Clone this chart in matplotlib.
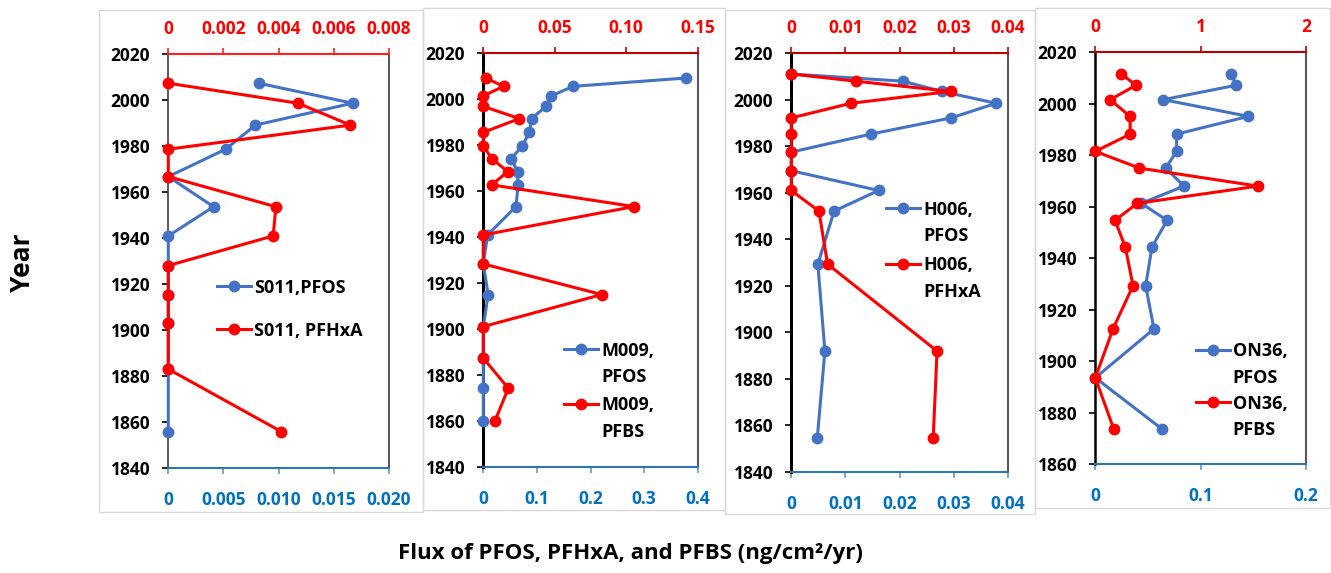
import matplotlib
matplotlib.use("Agg")
import matplotlib.pyplot as plt
from matplotlib.patches import Rectangle

plt.rcParams['font.family'] = ['Open Sans', 'DejaVu Sans']
plt.rcParams['font.weight'] = 'bold'

# ---------------- data ----------------
# Core S011
s011_years = [2007.3, 1998.6, 1989.1, 1978.6, 1966.7, 1953.6, 1940.9, 1928.0,
              1915.4, 1902.9, 1883.0, 1855.8]
s011_pfos = [0.0082, 0.0167, 0.0079, 0.0052, 0.0, 0.0041, 0.0, 0.0,
             0.0, 0.0, 0.0, 0.0]
s011_pfhxa = [0.0, 0.0047, 0.0066, 0.0, 0.0, 0.0039, 0.0038, 0.0,
              0.0, 0.0, 0.0, 0.0041]

# Core M009
m009_years = [2009.0, 2005.4, 2001.3, 1996.7, 1991.4, 1985.4, 1979.6, 1974.0,
              1968.4, 1962.6, 1953.2, 1940.9, 1928.3, 1915.0, 1901.1, 1887.4,
              1874.3, 1860.2]
m009_pfos = [0.378, 0.168, 0.127, 0.117, 0.090, 0.086, 0.073, 0.052,
             0.064, 0.065, 0.061, 0.008, 0.0, 0.009, 0.0, 0.0, 0.0, 0.0]
m009_pfbs = [0.0017, 0.0143, 0.0, 0.0, 0.0252, 0.0, 0.0, 0.0059,
             0.0171, 0.0059, 0.1055, 0.0, 0.0, 0.0829, 0.0, 0.0, 0.0175, 0.0082]

# Core H006
h006_years = [2011.1, 2008.0, 2003.6, 1998.5, 1992.2, 1985.3, 1977.5, 1969.5,
              1961.0, 1952.1, 1929.3, 1891.9, 1854.6]
h006_pfos = [0.0, 0.0206, 0.0278, 0.0378, 0.0295, 0.0148, 0.0, 0.0,
             0.0161, 0.0079, 0.0049, 0.0062, 0.0048]
h006_pfhxa = [0.0, 0.0119, 0.0294, 0.0110, 0.0, 0.0, 0.0, 0.0,
              0.0, 0.0051, 0.0067, 0.0269, 0.0262]

# Core ON36
on36_years = [2011.6, 2007.2, 2001.6, 1995.1, 1988.2, 1981.5, 1975.0, 1968.0,
              1961.3, 1954.7, 1944.3, 1929.3, 1912.5, 1893.5, 1873.6]
on36_pfos = [0.1291, 0.1338, 0.0646, 0.1453, 0.0772, 0.0772, 0.0668, 0.0842,
             0.0437, 0.0681, 0.0538, 0.0478, 0.0557, 0.0, 0.0633]
on36_pfbs = [0.247, 0.386, 0.142, 0.329, 0.332, 0.0, 0.418, 1.544,
             0.399, 0.187, 0.285, 0.358, 0.168, 0.0, 0.175]

# axis ticks (bottom = PFOS, top = PFHxA / PFBS)
s011_bottom_ticks = [0, 0.005, 0.010, 0.015, 0.020]
s011_bottom_labels = ["0", "0.005", "0.010", "0.015", "0.020"]
s011_top_ticks = [0, 0.002, 0.004, 0.006, 0.008]
s011_top_labels = ["0", "0.002", "0.004", "0.006", "0.008"]

m009_bottom_ticks = [0, 0.1, 0.2, 0.3, 0.4]
m009_bottom_labels = ["0", "0.1", "0.2", "0.3", "0.4"]
m009_top_ticks = [0, 0.05, 0.10, 0.15]
m009_top_labels = ["0", "0.05", "0.10", "0.15"]

h006_bottom_ticks = [0, 0.01, 0.02, 0.03, 0.04]
h006_bottom_labels = ["0", "0.01", "0.02", "0.03", "0.04"]
h006_top_ticks = [0, 0.01, 0.02, 0.03, 0.04]
h006_top_labels = ["0", "0.01", "0.02", "0.03", "0.04"]

on36_bottom_ticks = [0, 0.1, 0.2]
on36_bottom_labels = ["0", "0.1", "0.2"]
on36_top_ticks = [0, 1, 2]
on36_top_labels = ["0", "1", "2"]

year_ticks_long = [1840, 1860, 1880, 1900, 1920, 1940, 1960, 1980, 2000, 2020]
year_ticks_short = [1860, 1880, 1900, 1920, 1940, 1960, 1980, 2000, 2020]

# ---------------- figure ----------------
W, H = 1331, 573
fig = plt.figure(figsize=(W / 100, H / 100), dpi=100)
fig.patch.set_facecolor('white')

BLUE = '#4472C4'
RED = '#FF0000'
BLUE_TXT = '#0070C0'
TICK_FS = 12.5
LEG_FS = 13.0


def frame_box(x0, y0, x1, y1):
    fig.add_artist(Rectangle((x0 / W, 1 - y1 / H), (x1 - x0) / W, (y1 - y0) / H,
                             transform=fig.transFigure, fill=False,
                             edgecolor='#D9D9D9', lw=1.0))


def panel(rect, years, pfos, other, ylims, yticks,
          bticks, blabels, tticks, tlabels,
          lab_pfos, lab_other, leg_anchor, left_style, top_color,
          labelspacing):
    x0, y0, x1, y1 = rect
    ax = fig.add_axes([x0 / W, 1 - y1 / H, (x1 - x0) / W, (y1 - y0) / H])
    ax.set_facecolor('white')
    ax.set_ylim(*ylims)
    ax.set_yticks(yticks)
    ax.set_xlim(bticks[0], bticks[-1])
    ax.set_xticks(bticks)
    ax.set_xticklabels(blabels)

    ax.spines['top'].set_visible(False)
    ax.spines['left'].set_color(left_style[0])
    ax.spines['left'].set_linewidth(left_style[1])
    ax.spines['right'].set_color('#595959')
    ax.spines['right'].set_linewidth(1.5)
    ax.spines['bottom'].set_color('#2E75B6')
    ax.spines['bottom'].set_linewidth(1.5)

    ax.tick_params(axis='x', direction='out', length=4, width=1.2,
                   color='#5B9BD5', labelcolor=BLUE_TXT, labelsize=TICK_FS,
                   pad=12.5)
    ax.tick_params(axis='y', direction='out', length=4, width=1.2,
                   color='black', labelcolor='black', labelsize=TICK_FS,
                   pad=9)
    for t in ax.get_xticklabels() + ax.get_yticklabels():
        t.set_fontweight('bold')

    l1, = ax.plot(pfos, years, color=BLUE, lw=2.2, marker='o', ms=7.5,
                  clip_on=False, zorder=3, label=lab_pfos)

    tw = ax.twiny()
    tw.set_xlim(tticks[0], tticks[-1])
    tw.set_xticks(tticks)
    tw.set_xticklabels(tlabels)
    for s in ('left', 'right', 'bottom'):
        tw.spines[s].set_visible(False)
    tw.spines['top'].set_color(top_color)
    tw.spines['top'].set_linewidth(1.5)
    tw.tick_params(axis='x', direction='out', length=4, width=1.2,
                   color=top_color, labelcolor=RED, labelsize=TICK_FS, pad=7.5)
    for t in tw.get_xticklabels():
        t.set_fontweight('bold')

    l2, = tw.plot(other, years, color=RED, lw=2.2, marker='o', ms=7.5,
                  clip_on=False, zorder=3, label=lab_other)

    leg = tw.legend([l1, l2], [lab_pfos, lab_other], loc='upper left',
                    bbox_to_anchor=leg_anchor, frameon=False, borderpad=0,
                    borderaxespad=0, handlelength=1.9, handletextpad=0.15,
                    handleheight=1.1, labelspacing=labelspacing,
                    prop=dict(size=LEG_FS, weight='bold'))
    for t in leg.get_texts():
        t.set_linespacing(1.6)
    for col in leg._legend_handle_box.get_children():
        for item in col.get_children():
            item.align = 'top'
    return ax, tw


frame_box(99, 10, 423, 512)
frame_box(423, 8, 725, 510)
frame_box(725, 10, 1035, 514)
frame_box(1035, 8, 1330, 508)

panel((168.3, 54, 389, 468), s011_years, s011_pfos, s011_pfhxa,
      (1840, 2020), year_ticks_long,
      s011_bottom_ticks, s011_bottom_labels, s011_top_ticks, s011_top_labels,
      "S011,PFOS", "S011, PFHxA", (0.22, 0.457), ('#404040', 1.2), '#FF2020',
      1.4)

panel((483.3, 52.7, 697.7, 467.3), m009_years, m009_pfos, m009_pfbs,
      (1840, 2020), year_ticks_long,
      m009_bottom_ticks, m009_bottom_labels, m009_top_ticks, m009_top_labels,
      "M009,\nPFOS", "M009,\nPFBS", (0.377, 0.302), ('black', 2.2), '#C00000',
      0.55)

panel((791.3, 53.3, 1008, 471.7), h006_years, h006_pfos, h006_pfhxa,
      (1840, 2020), year_ticks_long,
      h006_bottom_ticks, h006_bottom_labels, h006_top_ticks, h006_top_labels,
      "H006,\nPFOS", "H006,\nPFHxA", (0.437, 0.647), ('black', 2.2), '#C00000',
      0.6)

panel((1095.3, 52.3, 1306, 464), on36_years, on36_pfos, on36_pfbs,
      (1860, 2020), year_ticks_short,
      on36_bottom_ticks, on36_bottom_labels, on36_top_ticks, on36_top_labels,
      "ON36,\nPFOS", "ON36,\nPFBS", (0.476, 0.296), ('black', 1.8), '#C00000',
      0.45)

fig.text(22 / W, 1 - 263 / H, "Year", rotation=90, ha='center', va='center',
         fontsize=19, fontweight='bold', color='black')
fig.text(630 / W, 1 - 554 / H, "Flux of PFOS, PFHxA, and PFBS (ng/cm²/yr)",
         ha='center', va='center', fontsize=16, fontweight='bold',
         color='black')

fig.savefig("out.png", dpi=100, facecolor='white')
